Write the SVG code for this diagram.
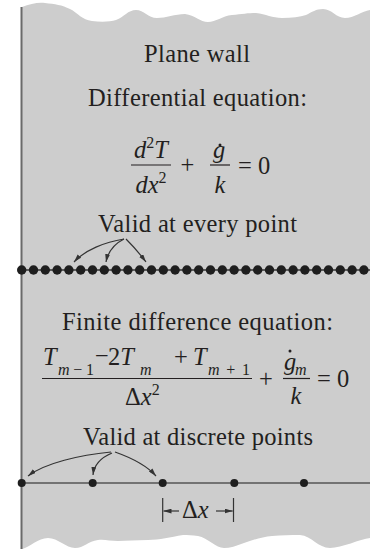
<svg xmlns="http://www.w3.org/2000/svg" width="370" height="549" viewBox="0 0 370 549">
<style>
text{font-family:"Liberation Serif","Times New Roman",serif;fill:#231f20;font-size:24.5px}
.i{font-style:italic}
.lbl{text-anchor:middle}
.sub{font-size:16px}
.bar{stroke:#231f20;stroke-width:1.2}
.arr{fill:none;stroke:#333;stroke-width:1.2}
.dot{fill:#1e1e1e}
</style>
<defs>
<marker id="ah" viewBox="0 0 10 6" refX="10" refY="3" markerWidth="8" markerHeight="5" markerUnits="userSpaceOnUse" orient="auto">
<path d="M0,0 L10,3 L0,6 Z" fill="#333"/>
</marker>
</defs>
<g id="wall">
<path d="M22,7 C30,4 38,2 45,3 C55,4 62,5 70,9 C78,13 82,20 92,21 C100,22 110,22 116,20 C124,17 128,10 136,10 C144,10 148,18 157,18 C166,18 175,14 185,14 C195,15 200,22 208,22 C216,22 222,16 232,15 C242,14 248,13 256,13 C266,14 272,18 282,18 C292,18 300,17 306,15 C312,12 316,9 323,9 C332,9 336,18 345,18 C354,18 362,11 370,10 L370,538 C360,539 342,548 330,548 C318,548 312,536 300,535 C290,535 282,535 272,536 C262,537 252,540 244,543 C236,546 230,548 224,548 C216,548 208,538 198,536 C192,535 188,535 183,535 C170,537 160,540 148,540 C136,540 126,541 118,541 C110,541 104,539 98,540 C88,541 84,548 75,548 C66,548 58,538 48,538 C38,538 30,547 22,549 Z" fill="#cdcdcd"/>
<line x1="21.5" y1="7" x2="21.5" y2="549" stroke="#6a6a6a" stroke-width="2"/>
</g>
<g id="title"><text x="197" y="62" class="lbl" textLength="106">Plane wall</text></g>
<g id="diff-label"><text x="197.5" y="106" class="lbl" textLength="219">Differential equation:</text></g>
<g id="diff-eq">
<text x="151" y="158" class="lbl"><tspan class="i">d</tspan><tspan class="sub" dy="-10">2</tspan><tspan class="i" dy="10">T</tspan></text>
<line class="bar" x1="131" y1="165" x2="171" y2="165"/>
<text x="151" y="193" class="lbl"><tspan class="i">dx</tspan><tspan class="sub" dy="-10">2</tspan></text>
<text x="187.5" y="173" class="lbl">+</text>
<text x="219" y="158" class="lbl i">g</text>
<circle cx="220" cy="145" r="1.5" fill="#231f20"/>
<line class="bar" x1="210" y1="165" x2="230" y2="165"/>
<text x="220" y="193" class="lbl i">k</text>
<text x="238" y="174">= 0</text>
</g>
<g id="cont-label"><text x="197.5" y="232" class="lbl" textLength="199">Valid at every point</text></g>
<g id="cont-points">
<line x1="21.7" y1="270" x2="370" y2="270" stroke="#333" stroke-width="1.5"/>
<circle class="dot" cx="21.7" cy="270" r="4.7"/><circle class="dot" cx="33.5" cy="270" r="4.7"/><circle class="dot" cx="45.3" cy="270" r="4.7"/><circle class="dot" cx="57.1" cy="270" r="4.7"/><circle class="dot" cx="68.9" cy="270" r="4.7"/><circle class="dot" cx="80.7" cy="270" r="4.7"/><circle class="dot" cx="92.5" cy="270" r="4.7"/><circle class="dot" cx="104.3" cy="270" r="4.7"/><circle class="dot" cx="116.1" cy="270" r="4.7"/><circle class="dot" cx="127.9" cy="270" r="4.7"/><circle class="dot" cx="139.7" cy="270" r="4.7"/><circle class="dot" cx="151.5" cy="270" r="4.7"/><circle class="dot" cx="163.3" cy="270" r="4.7"/><circle class="dot" cx="175.1" cy="270" r="4.7"/><circle class="dot" cx="186.9" cy="270" r="4.7"/><circle class="dot" cx="198.7" cy="270" r="4.7"/><circle class="dot" cx="210.5" cy="270" r="4.7"/><circle class="dot" cx="222.3" cy="270" r="4.7"/><circle class="dot" cx="234.1" cy="270" r="4.7"/><circle class="dot" cx="245.9" cy="270" r="4.7"/><circle class="dot" cx="257.7" cy="270" r="4.7"/><circle class="dot" cx="269.5" cy="270" r="4.7"/><circle class="dot" cx="281.3" cy="270" r="4.7"/><circle class="dot" cx="293.1" cy="270" r="4.7"/><circle class="dot" cx="304.9" cy="270" r="4.7"/><circle class="dot" cx="316.7" cy="270" r="4.7"/><circle class="dot" cx="328.5" cy="270" r="4.7"/><circle class="dot" cx="340.3" cy="270" r="4.7"/><circle class="dot" cx="352.1" cy="270" r="4.7"/><circle class="dot" cx="363.9" cy="270" r="4.7"/>
</g>
<g id="fd-label"><text x="197.5" y="330" class="lbl" textLength="271">Finite difference equation:</text></g>
<g id="fd-eq">
<text x="43" y="365" class="i">T</text>
<text x="58" y="375" class="sub" textLength="36"><tspan class="i">m</tspan> − 1</text>
<text x="95" y="364" font-size="19">−</text>
<text x="108" y="365">2<tspan class="i">T</tspan></text>
<text x="140" y="375" class="sub i">m</text>
<text x="174" y="365">+</text>
<text x="193" y="365" class="i">T</text>
<text x="208" y="375" class="sub" textLength="42"><tspan class="i">m</tspan> + 1</text>
<line class="bar" x1="42" y1="378.5" x2="252" y2="378.5"/>
<text x="125" y="405">Δ<tspan class="i">x</tspan><tspan class="sub" dy="-10">2</tspan></text>
<text x="266" y="387" class="lbl">+</text>
<text x="284" y="370" class="i">g</text>
<circle cx="290" cy="351" r="1.5" fill="#231f20"/>
<text x="295" y="375" class="sub i">m</text>
<line class="bar" x1="283" y1="378.5" x2="310" y2="378.5"/>
<text x="296" y="404" class="lbl i">k</text>
<text x="317" y="387">= 0</text>
</g>
<g id="disc-label"><text x="198" y="445" class="lbl" textLength="230">Valid at discrete points</text></g>
<g id="disc-points">
<line x1="21.7" y1="483" x2="370" y2="483" stroke="#555" stroke-width="1.5"/>
<circle class="dot" cx="21.7" cy="483" r="4"/><circle class="dot" cx="92.7" cy="483" r="4"/><circle class="dot" cx="162.7" cy="483" r="4"/><circle class="dot" cx="234.3" cy="483" r="4"/><circle class="dot" cx="304" cy="483" r="4"/>
</g>
<g id="dx-dim">
<line x1="162.7" y1="498" x2="162.7" y2="522" stroke="#333" stroke-width="1.2"/>
<line x1="233.5" y1="498" x2="233.5" y2="522" stroke="#333" stroke-width="1.2"/>
<text x="182" y="518">Δ<tspan class="i">x</tspan></text>
</g>
<g id="connectors">
<path class="arr" d="M124,239 C105,242 85,250 74,262" marker-end="url(#ah)"/>
<path class="arr" d="M124,239 C114,244 108,252 106,262" marker-end="url(#ah)"/>
<path class="arr" d="M126,239 C133,246 140,254 146,262" marker-end="url(#ah)"/>
<path class="arr" d="M111,452 C80,455 45,463 28,476" marker-end="url(#ah)"/>
<path class="arr" d="M112,453 C100,458 94,465 93,475" marker-end="url(#ah)"/>
<path class="arr" d="M115,452 C132,458 148,467 156,476" marker-end="url(#ah)"/>
<path class="arr" d="M179,511 L163.5,511" marker-end="url(#ah)"/>
<path class="arr" d="M216,511 L232.7,511" marker-end="url(#ah)"/>
</g>
</svg>
